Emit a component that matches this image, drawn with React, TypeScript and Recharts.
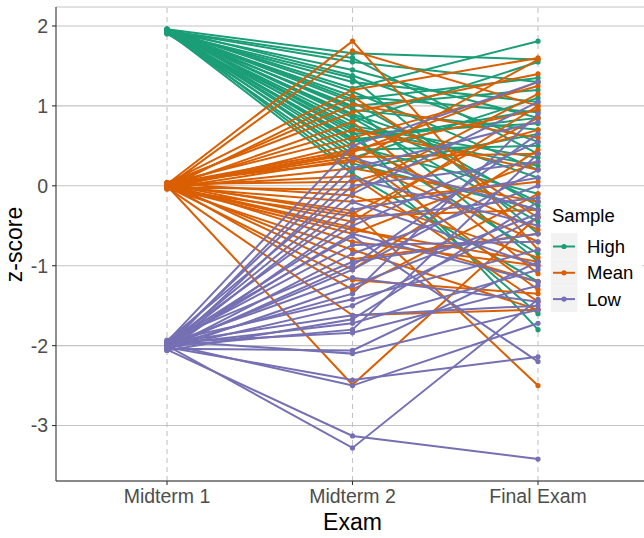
import React from 'react';
import { LineChart, Line, XAxis, YAxis, CartesianGrid, ReferenceLine } from 'recharts';

const FONT = "'Liberation Sans', Arial, Helvetica, sans-serif";

const exams = ['Midterm 1', 'Midterm 2', 'Final Exam'];
const yTicks = [-3, -2, -1, 0, 1, 2];
const sampleNames = ['High', 'Mean', 'Low'];
const sampleColors = ['#1B9E77', '#D95F02', '#7570B3'];

const highMid1 = [1.96, 1.95, 1.94, 1.93, 1.96, 1.92, 1.95, 1.93, 1.94, 1.91, 1.96, 1.92, 1.95, 1.93, 1.94, 1.90, 1.96, 1.92, 1.95, 1.93, 1.94, 1.91, 1.95, 1.92, 1.96, 1.93, 1.94, 1.92, 1.95, 1.93, 1.94, 1.91, 1.95];
const highMid2 = [1.66, 1.22, 1.55, 1.45, 1.38, 1.30, 1.18, 1.12, 1.05, 1.00, 0.95, 0.90, 0.85, 0.80, 0.75, 0.69, 0.65, 0.60, 0.55, 0.50, 0.45, 0.40, 0.35, 0.28, 0.20, 0.15, 1.60, 1.35, 1.08, 0.98, 0.72, 0.58, 0.88];
const highFinal = [1.58, 1.81, 1.30, 0.85, 0.55, 1.05, 0.20, 0.92, -0.25, 1.20, 0.70, 0.10, -0.45, 1.55, 0.35, -1.80, 0.78, -0.85, 0.95, -0.10, 0.50, -1.60, 1.10, -0.30, 0.65, -1.20, 0.40, -0.60, 1.35, -0.95, 0.25, 0.85, -0.20];

const meanMid1 = [0.02, -0.01, 0.03, -0.03, 0.01, 0.04, -0.02, 0.00, 0.03, -0.04, 0.02, -0.01, 0.01, 0.04, -0.03, 0.00, 0.02, -0.02, 0.03, -0.01, 0.01, -0.04, 0.02, 0.00, -0.02, 0.03, -0.03, 0.01, 0.04, -0.01, 0.02, -0.02, 0.00, 0.01, -0.03, 0.03, -0.01];
const meanMid2 = [1.81, 1.69, 1.20, 1.12, 1.02, 0.92, 0.80, 0.70, 0.60, 0.52, 0.45, 0.40, 0.36, 0.30, 0.22, 0.12, 0.05, -0.05, -0.12, -0.20, -0.31, -0.38, -0.45, -0.52, -0.60, -0.70, -0.80, -0.92, -1.05, -1.18, -1.30, -1.62, -2.49, 0.42, 0.33, -0.35, -0.55];
const meanFinal = [-0.80, 1.00, 1.60, -0.40, 0.60, 1.40, -1.10, 0.20, 1.25, -0.55, 0.95, -1.30, 0.40, 1.58, -0.20, -1.45, 0.70, 1.15, -0.90, 0.05, -2.50, -0.30, 1.00, -1.20, 0.30, -1.00, -1.55, -0.60, 0.45, -1.35, -0.10, -1.55, -0.38, 1.30, -0.70, 0.85, -0.95];

const lowMid1 = [-1.95, -2.02, -1.98, -2.05, -1.94, -2.00, -2.03, -1.97, -2.06, -1.99, -2.01, -1.96, -2.04, -1.93, -2.02, -1.98, -2.05, -2.00, -1.95, -2.03, -1.97, -2.06, -1.99, -2.01, -1.96, -2.04, -1.94, -2.02, -1.98, -2.05, -2.00, -1.97, -2.03];
const lowMid2 = [0.50, 0.35, 0.22, 0.10, 0.00, -0.10, -0.20, -0.30, -0.42, -0.50, -0.60, -0.63, -0.85, -0.95, -1.05, -1.15, -1.25, -1.35, -1.42, -1.50, -1.62, -1.67, -1.72, -1.80, -1.84, -2.06, -2.10, -2.43, -2.50, -3.13, -3.28, -0.74, -1.00];
const lowFinal = [1.30, -0.30, 0.80, -0.50, 0.30, 1.05, -1.00, 0.10, -0.15, 0.55, -1.20, -2.20, 0.00, -0.60, 0.20, -1.45, -0.35, 0.90, -0.80, -0.40, -1.50, -0.20, -1.05, 0.40, -1.25, -0.95, -1.55, -2.14, -1.72, -3.42, -1.42, -0.70, 0.65];

const groups = [
  { prefix: 'h', color: sampleColors[0], cols: [highMid1, highMid2, highFinal] },
  { prefix: 'm', color: sampleColors[1], cols: [meanMid1, meanMid2, meanFinal] },
  { prefix: 'l', color: sampleColors[2], cols: [lowMid1, lowMid2, lowFinal] },
];

const data = exams.map((exam, i) => {
  const row: Record<string, any> = { exam };
  groups.forEach((g) => {
    g.cols[i].forEach((v, j) => {
      row[g.prefix + j] = v;
    });
  });
  return row;
});

const series: { key: string; color: string }[] = [];
groups.forEach((g) => {
  g.cols[0].forEach((_, j) => series.push({ key: g.prefix + j, color: g.color }));
});

export default function App() {
  return (
    <div style={{ position: 'absolute', left: 0, top: 0, width: 644, height: 538, background: '#fff' }}>
      <LineChart width={644} height={538} data={data} margin={{ top: 7, right: 0, bottom: 0, left: 0 }}>
        <CartesianGrid vertical={false} stroke="#c4c4c4" strokeWidth={1.1} />
        {exams.map((e) => (
          <ReferenceLine key={'ref' + e} x={e} stroke="#c4c4c4" strokeWidth={1.1} strokeDasharray="5 4" />
        ))}
        <XAxis
          dataKey="exam"
          padding={{ left: 111, right: 106 }}
          height={57}
          tickSize={4}
          tickMargin={4}
          interval={0}
          axisLine={{ stroke: '#333', strokeWidth: 1.1 }}
          tickLine={{ stroke: '#333', strokeWidth: 1.1 }}
          tick={{ fill: '#4d4d4d', fontSize: 19.5, fontFamily: FONT }}
        />
        <YAxis
          type="number"
          domain={[-3.694, 2.2375]}
          ticks={yTicks}
          allowDataOverflow
          width={56}
          tickSize={4}
          tickMargin={4}
          axisLine={{ stroke: '#333', strokeWidth: 1.1 }}
          tickLine={{ stroke: '#333', strokeWidth: 1.1 }}
          tick={{ fill: '#4d4d4d', fontSize: 19.5, fontFamily: FONT }}
        />
        {series.map((s) => (
          <Line
            key={'line-' + s.key}
            dataKey={s.key}
            stroke={s.color}
            strokeWidth={2}
            dot={false}
            activeDot={false}
            isAnimationActive={false}
            legendType="none"
          />
        ))}
        {series.map((s) => (
          <Line
            key={'dot-' + s.key}
            dataKey={s.key}
            stroke="none"
            strokeWidth={0}
            dot={{ r: 2.6, fill: s.color, stroke: 'none' }}
            activeDot={false}
            isAnimationActive={false}
            legendType="none"
          />
        ))}
      </LineChart>
      <svg
        width={644}
        height={538}
        style={{ position: 'absolute', left: 0, top: 0, pointerEvents: 'none' }}
      >
        <text
          transform="translate(22,244.5) rotate(-90)"
          textAnchor="middle"
          fontSize={23}
          fontFamily={FONT}
          fill="#000"
        >
          z-score
        </text>
        <text x={352.5} y={530} textAnchor="middle" fontSize={23} fontFamily={FONT} fill="#000">
          Exam
        </text>
        <rect x={543} y={194} width={99} height={124} fill="#fff" />
        <text x={552} y={222} fontSize={18.5} fontFamily={FONT} fill="#000">
          Sample
        </text>
        {sampleNames.map((n, i) => {
          const cy = 246.5 + i * 26.3;
          return (
            <g key={n}>
              <rect x={551} y={233 + i * 26.3} width={26.5} height={26.3} fill="#f2f2f2" />
              <line x1={553} x2={575} y1={cy} y2={cy} stroke={sampleColors[i]} strokeWidth={2} />
              <circle cx={564} cy={cy} r={2.6} fill={sampleColors[i]} />
              <text x={587} y={cy + 6.5} fontSize={18.5} fontFamily={FONT} fill="#000">
                {n}
              </text>
            </g>
          );
        })}
      </svg>
    </div>
  );
}
